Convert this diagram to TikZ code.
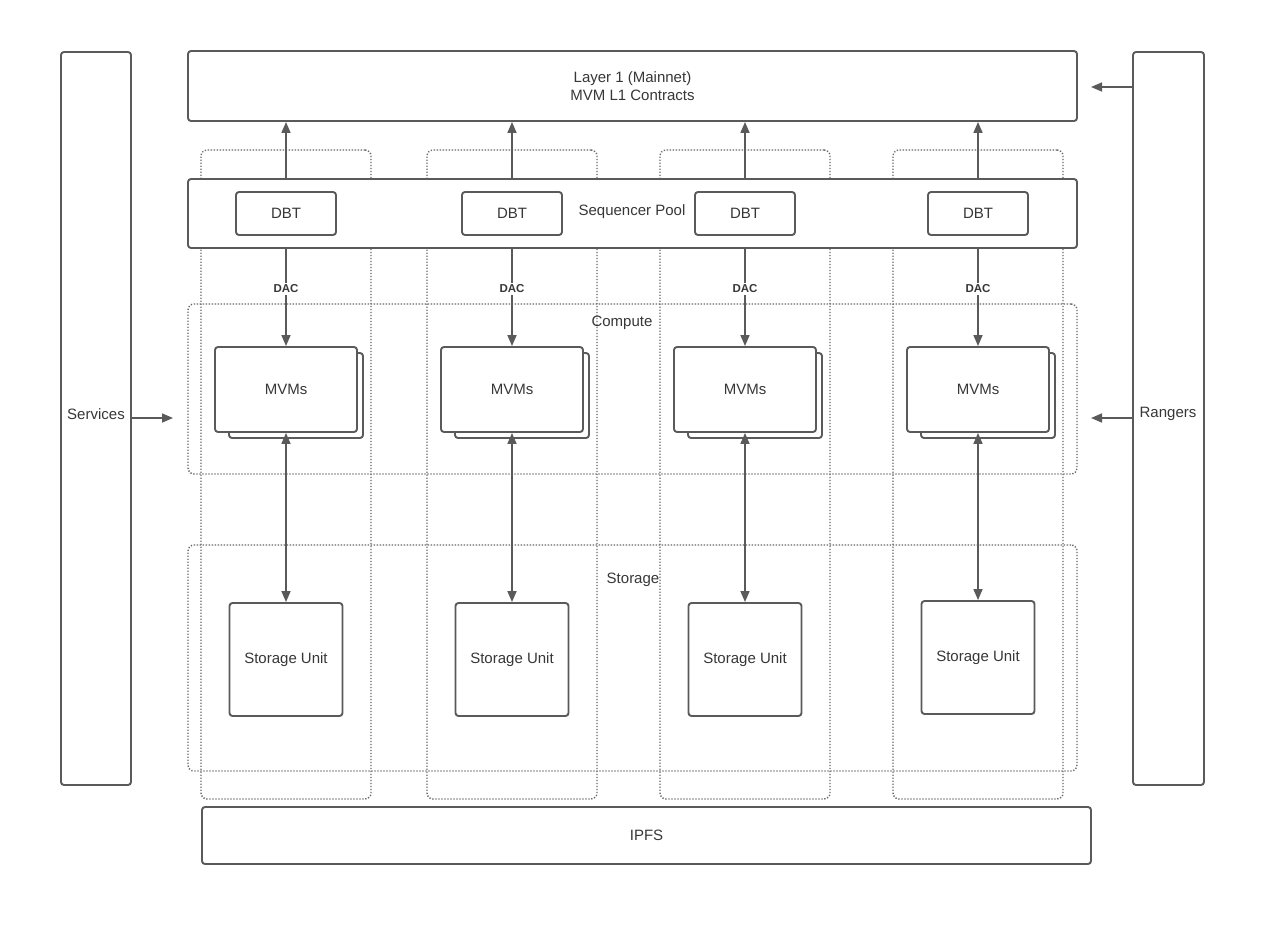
\documentclass[tikz,border=0pt]{standalone}
\usepackage{fontspec}
\setmainfont{Liberation Sans}
\usetikzlibrary{arrows.meta}
\definecolor{ln}{RGB}{90,90,90}
\definecolor{dt}{RGB}{105,105,105}
\definecolor{tx}{RGB}{55,55,55}
\begin{document}
\begin{tikzpicture}[x=1pt,y=-1pt,
  box/.style={draw=ln,line width=1.9pt,rounded corners=3pt,fill=white,inner sep=0pt,text=tx,font=\fontsize{15}{18}\selectfont},
  dotbox/.style={draw=dt,line width=1.4pt,dash pattern=on 1.3pt off 1.7pt,rounded corners=6pt,inner sep=0pt},
  lbl/.style={text=tx,inner sep=0pt,font=\fontsize{15}{18}\selectfont},
  daclbl/.style={text=tx,fill=white,inner sep=1.5pt,font=\bfseries\fontsize{11.5}{13}\selectfont},
  arr/.style={draw=ln,line width=1.6pt,-{Triangle[length=11pt,width=9pt]}},
  darr/.style={draw=ln,line width=1.6pt,{Triangle[length=11pt,width=9pt]}-{Triangle[length=11pt,width=9pt]}}]
\useasboundingbox[fill=white] (0,0) rectangle (1280,926);

% dotted columns
\foreach \c/\x in {1/286,2/512,3/745,4/978}{
  \node[dotbox,minimum width=170pt,minimum height=649pt] (col\c) at (\x,474.5) {};
}
% compute and storage regions
\node[dotbox,minimum width=889pt,minimum height=170pt] (compute) at (632.5,389) {};
\node[dotbox,minimum width=889pt,minimum height=226pt] (storage) at (632.5,658) {};
\node[lbl] (computelbl) at (622,323) {Compute};
\node[lbl] (storagelbl) at (633,580) {Storage};

% side boxes
\node[box,minimum width=70pt,minimum height=733pt] (services) at (96,418.5) {};
\node[lbl] (serviceslbl) at (96,414) {Services};
\node[box,minimum width=71pt,minimum height=733pt] (rangers) at (1168.5,418.5) {};
\node[lbl] (rangerslbl) at (1168,414) {Rangers};

% layer 1
\node[box,minimum width=889pt,minimum height=70pt,align=center] (l1) at (632.5,86) {Layer 1 (Mainnet)\\MVM L1 Contracts};

% sequencer pool
\node[box,minimum width=889pt,minimum height=69pt] (seq) at (632.5,213.5) {};
\node[lbl] (seqlbl) at (632,212) {Sequencer Pool};

% IPFS
\node[box,minimum width=889pt,minimum height=57pt] (ipfs) at (646.5,835.5) {IPFS};

% columns content
\foreach \c/\x/\sy in {1/286/659.5,2/512/659.5,3/745/659.5,4/978/657.5}{
  \node[box,minimum width=100pt,minimum height=43pt] (dbt\c) at (\x,213.5) {DBT};
  \node[box,minimum width=134pt,minimum height=85pt] (mvmback\c) at (\x+10,395.5) {};
  \node[box,minimum width=142pt,minimum height=85pt] (mvm\c) at (\x,389.5) {MVMs};
  \node[box,minimum width=113pt,minimum height=113pt] (su\c) at (\x,\sy) {Storage Unit};
  \draw[arr] (dbt\c |- seq.north) -- (dbt\c |- l1.south);
  \draw[arr] (dbt\c |- seq.south) -- (mvm\c.north);
  \node[daclbl] (dac\c) at (\x,289) {DAC};
  \draw[darr] (mvm\c.south) -- (su\c.north);
}

% side arrows
\coordinate (r1) at (1091,87);
\coordinate (r2) at (1091,418);
\coordinate (s1) at (173,418);
\draw[arr] (rangers.west |- r1) -- (r1);
\draw[arr] (rangers.west |- r2) -- (r2);
\draw[arr] (services.east |- s1) -- (s1);
\end{tikzpicture}
\end{document}
